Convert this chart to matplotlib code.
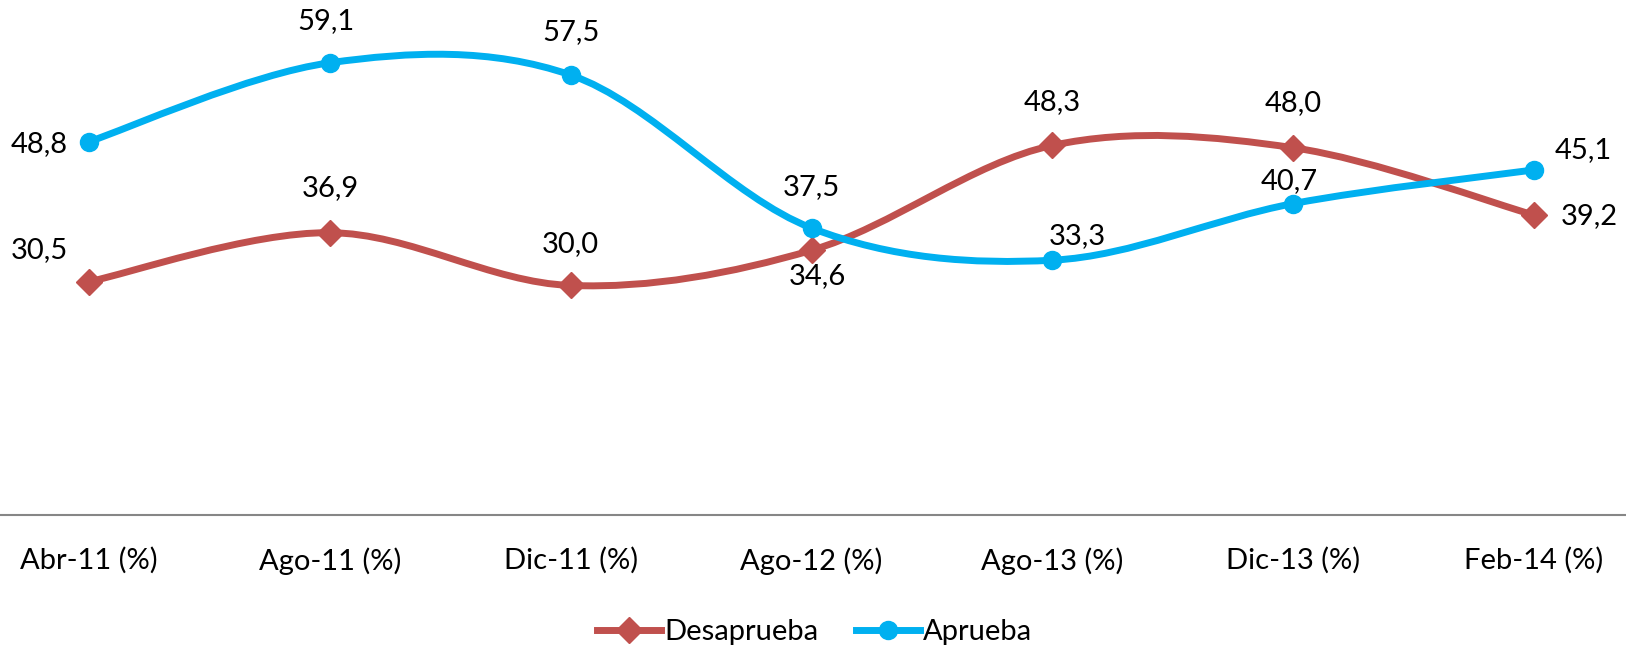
import matplotlib
matplotlib.use('Agg')
import matplotlib.pyplot as plt
from matplotlib.path import Path
from matplotlib.patches import PathPatch
from matplotlib.lines import Line2D

plt.rcParams['font.family'] = ['Lato', 'DejaVu Sans']

categories = ['Abr-11 (%)', 'Ago-11 (%)', 'Dic-11 (%)', 'Ago-12 (%)',
              'Ago-13 (%)', 'Dic-13 (%)', 'Feb-14 (%)']
desaprueba = [30.5, 36.9, 30.0, 34.6, 48.3, 48.0, 39.2]
aprueba = [48.8, 59.1, 57.5, 37.5, 33.3, 40.7, 45.1]

RED = '#C0504D'
CYAN = '#00B0F0'

fig = plt.figure(figsize=(16.26, 6.52), dpi=100)
ax = fig.add_axes([0, 0.210, 1, 0.790])
ax.set_xlim(-0.37, 6.382)
ax.set_ylim(0, 67.3)

x = list(range(len(categories)))


def smooth_path(xs, ys):
    n = len(xs)
    verts = [(xs[0], ys[0])]
    codes = [Path.MOVETO]
    for i in range(n - 1):
        p0 = (xs[max(i - 1, 0)], ys[max(i - 1, 0)])
        p1 = (xs[i], ys[i])
        p2 = (xs[i + 1], ys[i + 1])
        p3 = (xs[min(i + 2, n - 1)], ys[min(i + 2, n - 1)])
        c1 = (p1[0] + (p2[0] - p0[0]) / 6, p1[1] + (p2[1] - p0[1]) / 6)
        c2 = (p2[0] - (p3[0] - p1[0]) / 6, p2[1] - (p3[1] - p1[1]) / 6)
        verts += [c1, c2, p2]
        codes += [Path.CURVE4] * 3
    return Path(verts, codes)


lw = 5
ax.add_patch(PathPatch(smooth_path(x, desaprueba), facecolor='none',
                       edgecolor=RED, lw=lw, capstyle='round', zorder=2))
ax.plot(x, desaprueba, ls='none', marker='D', ms=13, color=RED, zorder=3)
ax.add_patch(PathPatch(smooth_path(x, aprueba), facecolor='none',
                       edgecolor=CYAN, lw=lw, capstyle='round', zorder=4))
ax.plot(x, aprueba, ls='none', marker='o', ms=13, color=CYAN, zorder=5)


def fmt(v):
    return f"{v:.1f}".replace('.', ',')


fs = 21
apr_off = [(-21, -2, 'right'), (-4, 42, 'center'), (0, 43, 'center'),
           (0, 41, 'center'), (25, 24, 'center'), (-4, 23, 'center'),
           (21, 20, 'left')]
des_off = [(-21, 32, 'right'), (0, 45, 'center'), (0, 41, 'center'),
           (6, -26, 'center'), (0, 43, 'center'), (0, 45, 'center'),
           (27, -1, 'left')]
for xi, v, (dx, dy, ha) in zip(x, aprueba, apr_off):
    ax.annotate(fmt(v), (xi, v), xytext=(dx, dy), textcoords='offset pixels',
                ha=ha, va='center', fontsize=fs, color='black', zorder=6)
for xi, v, (dx, dy, ha) in zip(x, desaprueba, des_off):
    ax.annotate(fmt(v), (xi, v), xytext=(dx, dy), textcoords='offset pixels',
                ha=ha, va='center', fontsize=fs, color='black', zorder=6)

for s in ['top', 'right', 'left']:
    ax.spines[s].set_visible(False)
ax.spines['bottom'].set_color('#868686')
ax.spines['bottom'].set_linewidth(1.5)
ax.set_yticks([])
ax.set_xticks(x)
ax.set_xticklabels(categories, fontsize=fs)
ax.tick_params(axis='x', length=0, pad=23)

handles = [Line2D([], [], color=RED, lw=lw, marker='D', ms=13),
           Line2D([], [], color=CYAN, lw=lw, marker='o', ms=13)]
fig.legend(handles, ['Desaprueba', 'Aprueba'], loc='center',
           bbox_to_anchor=(0.501, 0.031), bbox_transform=fig.transFigure,
           ncol=2, frameon=False, fontsize=fs, handlelength=2.2,
           handletextpad=0.1, columnspacing=1.3)

fig.savefig('out.png', dpi=100)
